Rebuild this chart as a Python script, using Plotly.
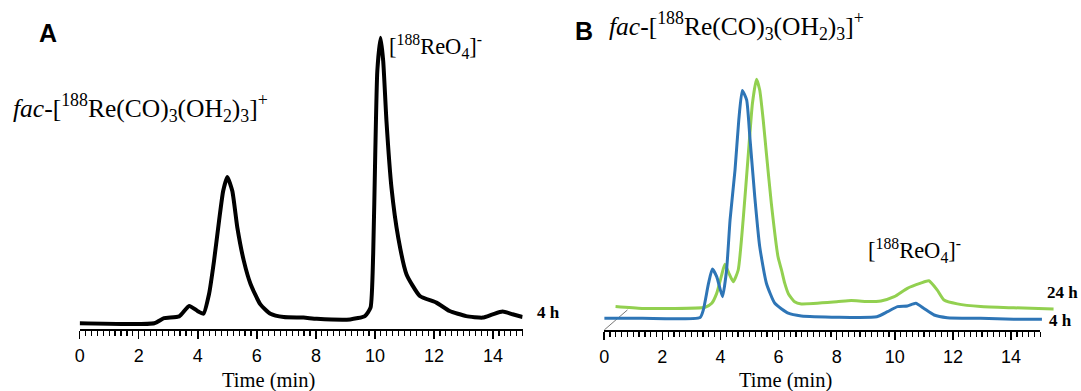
import plotly.graph_objects as go

# ---------------- data ----------------
# Panel A: 4 h chromatogram (time in min, signal in arbitrary units)
a_time = [0, 2.53, 2.86, 3.37, 3.71, 3.99, 4.19, 4.38, 4.55, 4.72, 4.86, 5.0, 5.17, 5.34,
          5.56, 5.79, 6.12, 6.46, 6.91, 7.58, 8.03, 9.16, 9.66, 9.85, 9.94, 10.01, 10.08,
          10.19, 10.28, 10.39, 10.56, 10.79, 11.07, 11.52, 12.08, 12.53, 13.09, 13.65,
          13.99, 14.32, 14.66, 15.0]
a_signal = [1.9, 1.9, 3.6, 4.2, 7.7, 6.0, 5.1, 11.6, 22.7, 36.0, 46.0, 50.7, 46.0, 33.8,
            22.7, 14.9, 8.2, 5.1, 4.0, 3.8, 3.4, 3.2, 4.3, 7.1, 24.9, 58.2, 86.0, 97.1,
            89.3, 69.3, 47.1, 30.4, 18.2, 11.0, 8.8, 6.0, 4.3, 3.8, 4.9, 5.8, 4.9, 4.0]

# Panel B: 4 h (blue)
b4_time = [0, 1.3, 3.3, 3.41, 3.59, 3.72, 3.87, 4.07, 4.21, 4.33, 4.5, 4.63, 4.75, 4.9,
           5.01, 5.18, 5.35, 5.58, 5.87, 6.33, 6.78, 9.38, 9.75, 10.09, 10.43, 10.72,
           11.0, 11.35, 11.8, 12.95, 14.09, 15.06]
b4_signal = [3.9, 3.9, 4.2, 6.7, 15.6, 20.3, 17.8, 11.1, 20.0, 36.7, 53.3, 70.0, 79.8,
             76.7, 64.4, 44.4, 27.8, 15.6, 8.9, 5.6, 4.7, 4.4, 6.1, 7.8, 8.0, 8.9, 7.2,
             5.0, 4.1, 3.9, 3.6, 3.6]

# Panel B: 24 h (green, drawn offset as in the original figure)
b24_time = [0.39, 1.3, 3.47, 3.7, 3.87, 4.04, 4.15, 4.29, 4.44, 4.61, 4.78, 4.96, 5.1,
            5.24, 5.35, 5.47, 5.58, 5.75, 5.98, 6.1, 6.21, 6.34, 6.55, 6.78, 8.0, 8.5,
            9.0, 9.52, 9.98, 10.43, 10.89, 11.17, 11.46, 11.69, 12.15, 12.95, 14.09, 15.46]
b24_signal = [7.8, 7.2, 7.6, 8.9, 12.2, 18.3, 21.9, 18.9, 16.1, 20.0, 36.7, 58.9, 75.6,
              83.6, 80.0, 70.0, 58.9, 42.2, 24.4, 20.0, 15.6, 12.0, 9.4, 8.7, 9.4, 9.8,
              9.5, 9.7, 11.1, 13.9, 15.6, 16.4, 13.3, 10.0, 8.7, 7.8, 7.4, 7.0]

# offset guide line in panel B
guide_time = [0, 0.8]
guide_signal = [0, 6.7]

even_ticks = list(range(0, 16, 2))
odd_ticks = list(range(1, 16, 2))

BLUE = "rgb(46,117,182)"
GREEN = "rgb(146,208,80)"

W, H = 1081, 391


def px_x(p):
    return p / W


def px_y(p):
    return 1 - p / H


SMOOTH = 0.5
fig = go.Figure()
fig.add_trace(go.Scatter(x=a_time, y=a_signal, mode="lines", xaxis="x", yaxis="y",
                         line=dict(color="black", width=4, shape="spline", smoothing=SMOOTH),
                         showlegend=False))
fig.add_trace(go.Scatter(x=guide_time, y=guide_signal, mode="lines", xaxis="x2", yaxis="y2",
                         line=dict(color="rgb(120,120,120)", width=1), showlegend=False))
fig.add_trace(go.Scatter(x=b24_time, y=b24_signal, mode="lines", xaxis="x3", yaxis="y3",
                         line=dict(color=GREEN, width=3, shape="spline", smoothing=SMOOTH),
                         showlegend=False))
fig.add_trace(go.Scatter(x=b4_time, y=b4_signal, mode="lines", xaxis="x3", yaxis="y3",
                         line=dict(color=BLUE, width=3, shape="spline", smoothing=SMOOTH),
                         showlegend=False))

axis_common = dict(
    range=[0, 15], tickmode="array", tickvals=even_ticks,
    ticktext=[str(v) for v in even_ticks],
    ticks="outside", ticklen=8, tickwidth=1.5, tickcolor="black",
    showline=True, linecolor="black", linewidth=1.5, showgrid=False, zeroline=False,
    tickfont=dict(family="Liberation Sans", size=18, color="black"),
    ticklabelstandoff=2,
    minor=dict(tickmode="linear", tick0=0, dtick=0.2, ticks="outside", ticklen=5,
               tickwidth=1.2, tickcolor="black", showgrid=False),
    fixedrange=True,
)
odd_axis = dict(range=[0, 15], tickmode="array", tickvals=odd_ticks, ticks="outside",
                ticklen=8, tickwidth=1.5, tickcolor="black", showticklabels=False,
                showline=False, showgrid=False, zeroline=False, fixedrange=True)
yaxis_common = dict(range=[0, 100], visible=False, fixedrange=True)

fig.update_layout(
    width=W, height=H, margin=dict(l=0, r=0, t=0, b=0),
    paper_bgcolor="white", plot_bgcolor="rgba(0,0,0,0)",
    xaxis=dict(domain=[px_x(75), px_x(520)], anchor="y", **axis_common),
    yaxis=dict(domain=[px_y(329), px_y(29)], anchor="x", **yaxis_common),
    xaxis2=dict(domain=[px_x(602), px_x(1040)], anchor="y2", **axis_common),
    yaxis2=dict(domain=[px_y(330), px_y(30)], anchor="x2", **yaxis_common),
    xaxis3=dict(domain=[px_x(602), px_x(1065)], range=[0, (1065 - 602) / 29.2],
                anchor="y3", visible=False, fixedrange=True),
    yaxis3=dict(domain=[px_y(330), px_y(30)], anchor="x3", **yaxis_common),
    xaxis4=dict(overlaying="x", anchor="y", **odd_axis),
    xaxis5=dict(overlaying="x2", anchor="y2", **odd_axis),
)

serif = "Liberation Serif"
fac = "<i>fac</i>-[<sup>188</sup>Re(CO)<sub>3</sub>(OH<sub>2</sub>)<sub>3</sub>]<sup>+</sup>"
reo4 = "[<sup>188</sup>ReO<sub>4</sub>]<sup>-</sup>"

annos = [
    dict(text="<b>A</b>", x=px_x(43), y=px_y(33), xanchor="center", yanchor="middle",
         font=dict(family="Liberation Sans", size=25, color="black")),
    dict(text="<b>B</b>", x=px_x(582), y=px_y(31), xanchor="center", yanchor="middle",
         font=dict(family="Liberation Sans", size=25, color="black")),
    dict(text=fac, x=px_x(6), y=px_y(108), xanchor="left", yanchor="middle",
         font=dict(family=serif, size=25.5, color="black")),
    dict(text=reo4, x=px_x(384), y=px_y(47), xanchor="left", yanchor="middle",
         font=dict(family=serif, size=22.5, color="black")),
    dict(text=fac, x=px_x(605), y=px_y(26), xanchor="left", yanchor="middle",
         font=dict(family=serif, size=25.5, color="black")),
    dict(text=reo4, x=px_x(865), y=px_y(251), xanchor="left", yanchor="middle",
         font=dict(family=serif, size=22.5, color="black")),
    dict(text="<b>4 h</b>", x=px_x(532), y=px_y(312), xanchor="left", yanchor="middle",
         font=dict(family=serif, size=17, color="black")),
    dict(text="<b>24 h</b>", x=px_x(1045), y=px_y(292), xanchor="left", yanchor="middle",
         font=dict(family=serif, size=17, color="black")),
    dict(text="<b>4 h</b>", x=px_x(1047), y=px_y(320), xanchor="left", yanchor="middle",
         font=dict(family=serif, size=17, color="black")),
    dict(text="Time (min)", x=px_x(265), y=px_y(380), xanchor="center", yanchor="middle",
         font=dict(family=serif, size=20.5, color="black")),
    dict(text="Time (min)", x=px_x(784), y=px_y(380), xanchor="center", yanchor="middle",
         font=dict(family=serif, size=20.5, color="black")),
]
for a in annos:
    a.update(xref="paper", yref="paper", showarrow=False)
fig.update_layout(annotations=annos)

# remove the browser's default 8 px page margin so the figure fills the window exactly
fig.write_html(
    "out.html",
    config=dict(displayModeBar=False, staticPlot=True),
    post_script="document.body.style.margin='0px';document.body.style.overflow='hidden';",
)
